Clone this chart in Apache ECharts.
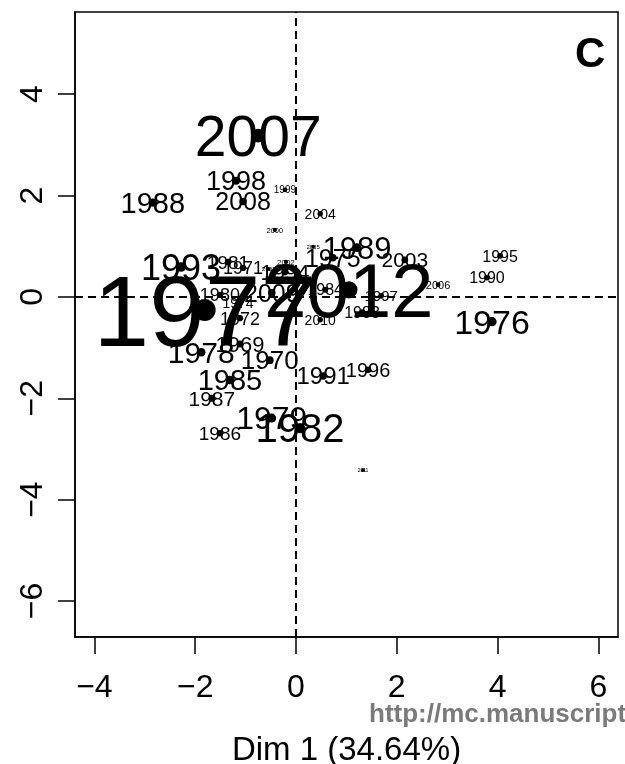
<!DOCTYPE html>
<html>
<head>
<meta charset="utf-8">
<script src="https://cdn.jsdelivr.net/npm/echarts@6/dist/echarts.min.js"></script>
<style>
  html, body { margin: 0; padding: 0; background: #fff; }
  #chart { width: 625px; height: 764px; }
</style>
</head>
<body>
<div id="chart"></div>
<script>
// Correspondence-analysis map of years: coordinates on Dim 1 / Dim 2,
// label size driven by each year's weight on the map.
const years = [
  "1969", "1970", "1971", "1972", "1974", "1975", "1976", "1977", "1978", "1979",
  "1980", "1981", "1982", "1983", "1984", "1985", "1986", "1987", "1988", "1989",
  "1990", "1991", "1993", "1994", "1995", "1996", "1997", "1998", "1999", "2000",
  "2001", "2002", "2003", "2004", "2005", "2006", "2007", "2008", "2009", "2010",
  "2011", "2012"
];
const dim1 = [
  -1.11, -0.52, -1.05, -1.11, -1.15, 0.73, 3.89, -1.81, -1.88, -0.48,
  -1.51, -1.35, 0.08, 1.31, 0.58, -1.31, -1.51, -1.67, -2.84, 1.21,
  3.79, 0.54, -2.28, -0.22, 4.05, 1.43, 1.69, -1.19, -0.22, -0.42,
  -0.54, -0.20, 2.16, 0.48, 0.34, 2.82, -0.75, -1.05, -0.48, 0.48,
  1.33, 1.05
];
const dim2 = [
  -0.93, -1.25, 0.57, -0.42, -0.12, 0.77, -0.49, -0.26, -1.09, -2.39,
  0.04, 0.69, -2.59, -0.30, 0.14, -1.64, -2.69, -2.00, 1.86, 0.97,
  0.38, -1.56, 0.59, 0.49, 0.81, -1.44, 0.02, 2.29, 2.11, 1.32,
  0.55, 0.69, 0.73, 1.64, 0.99, 0.24, 3.18, 1.88, 0.08, -0.45,
  -3.42, 0.14
];
const weight = [
  2.2, 2.6, 1.8, 1.8, 1.4, 2.5, 3.4, 10.0, 3.0, 3.2,
  1.8, 1.9, 4.0, 1.6, 1.6, 2.9, 1.9, 2.1, 2.9, 3.1,
  1.6, 2.4, 3.6, 2.2, 1.6, 2.0, 1.5, 2.7, 1.0, 0.75,
  0.6, 0.8, 2.1, 1.4, 0.6, 1.1, 5.7, 2.5, 2.5, 1.4,
  0.5, 7.6
];
const xTicks = [-4, -2, 0, 2, 4, 6];
const yTicks = [-6, -4, -2, 0, 2, 4];
const xTitle = "Dim 1 (34.64%)";
const panelTag = "C";
const sourceNote = "http://mc.manuscriptcentral.com/";

const FONT = "'Liberation Sans', Arial, Helvetica, sans-serif";
const minus = v => String(v).replace('-', '\u2212');

const points = years.map((yr, i) => {
  const fs = weight[i] * 10;
  return {
    value: [dim1[i], dim2[i]],
    name: yr,
    symbolSize: 2.8 + weight[i] * 1.9,
    // digits sit slightly above the em-box middle; nudge so glyphs centre on the point
    label: { fontSize: fs, offset: [0, fs * 0.08] }
  };
});

const axisStyle = { color: '#000', width: 1.5 };

const chart = echarts.init(document.getElementById('chart'), null, { renderer: 'canvas' });
chart.setOption({
  animation: false,
  backgroundColor: '#fff',
  textStyle: { fontFamily: FONT },
  grid: {
    left: 75, right: 7, top: 12, bottom: 127,
    outerBoundsMode: 'none',
    containLabel: false,
    show: true, borderColor: '#000', borderWidth: 1.5, backgroundColor: 'transparent'
  },
  xAxis: {
    type: 'value', min: -4.385, max: 6.39,
    axisLine: { show: true, onZero: false, lineStyle: axisStyle },
    axisTick: { show: true, length: 17, customValues: xTicks, lineStyle: axisStyle },
    axisLabel: {
      customValues: xTicks, formatter: minus, fontSize: 32, color: '#000',
      fontFamily: FONT, margin: 35
    },
    splitLine: { show: false },
    name: xTitle, nameLocation: 'middle', nameGap: 97,
    nameTextStyle: { fontSize: 33, color: '#000', fontFamily: FONT }
  },
  yAxis: {
    type: 'value', min: -6.71, max: 5.62,
    axisLine: { show: true, onZero: false, lineStyle: axisStyle },
    axisTick: { show: true, length: 17, customValues: yTicks, lineStyle: axisStyle },
    axisLabel: {
      customValues: yTicks, formatter: minus, fontSize: 32, color: '#000',
      fontFamily: FONT, rotate: 90, margin: 26
    },
    splitLine: { show: false }
  },
  series: [{
    type: 'scatter',
    data: points,
    itemStyle: { color: '#000', opacity: 1 },
    label: {
      show: true, position: 'inside', formatter: '{b}',
      color: '#000', fontFamily: FONT, align: 'center', verticalAlign: 'middle'
    },
    emphasis: { disabled: true },
    markLine: {
      silent: true, symbol: 'none', animation: false,
      label: { show: false },
      lineStyle: { color: '#000', width: 2, type: [8, 5] },
      data: [{ xAxis: 0 }, { yAxis: 0 }]
    }
  }],
  graphic: [
    {
      type: 'text', left: 575, top: 34,
      style: { text: panelTag, font: 'bold 42px ' + FONT, fill: '#000' }
    },
    {
      type: 'text', left: 369, top: 702,
      style: { text: sourceNote, font: 'bold 26px ' + FONT, fill: '#7a7a7a' }
    }
  ]
});
</script>
</body>
</html>
